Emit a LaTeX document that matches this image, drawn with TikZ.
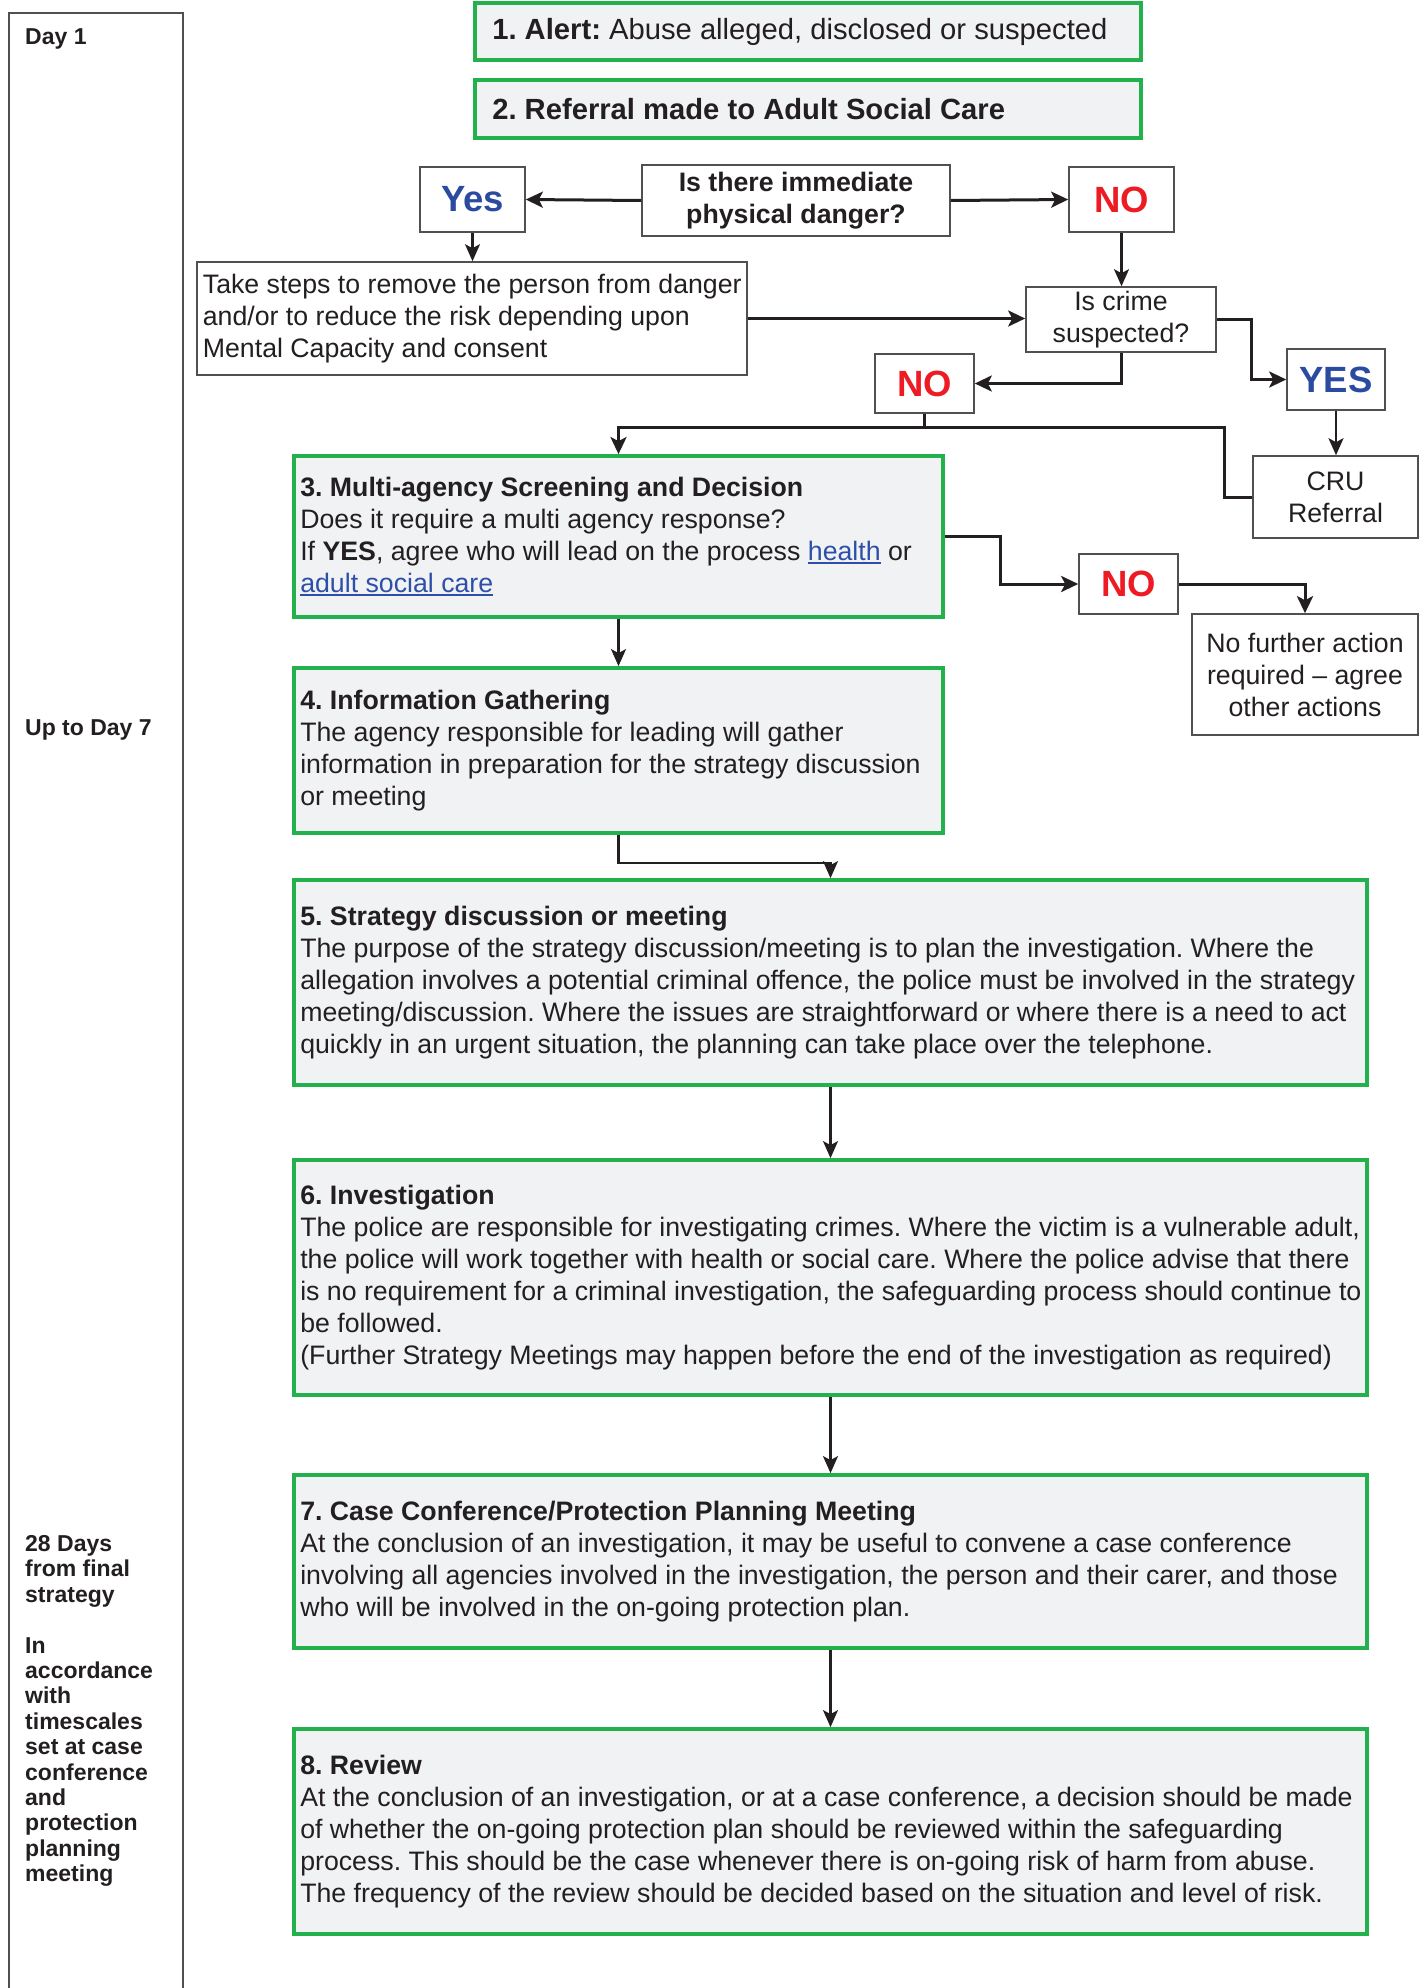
\documentclass[tikz,border=0pt]{standalone}
\usepackage{fontspec}
\setmainfont{Liberation Sans}
\frenchspacing
\usetikzlibrary{arrows.meta}
\definecolor{gborder}{RGB}{34,177,76}
\definecolor{gfill}{RGB}{241,242,244}
\definecolor{ink}{RGB}{35,31,32}
\definecolor{yblue}{RGB}{43,75,160}
\definecolor{nred}{RGB}{237,28,36}
\definecolor{lblue}{RGB}{46,79,168}
\definecolor{pborder}{RGB}{80,80,80}
\newcommand{\lnk}[1]{\textcolor{lblue}{\setbox0\hbox{#1}\rlap{\rule[-3.5pt]{\wd0}{1.6pt}}\box0}}
\begin{document}
\begin{tikzpicture}[x=1pt,y=-1pt,
  every node/.style={text=ink},
  gbox/.style={draw=gborder, fill=gfill, line width=3.8pt, inner sep=0pt},
  btext/.style={anchor=west, inner sep=0pt, align=left, font=\fontsize{26.7}{32}\selectfont},
  pbox/.style={draw=pborder, fill=white, line width=1.6pt, inner sep=0pt, font=\fontsize{26.7}{32}\selectfont},
  ans/.style={pbox, font=\fontsize{36.5}{40}\selectfont\bfseries},
  side/.style={align=left, inner sep=0pt, font=\fontsize{23}{25.4}\selectfont\bfseries},
  bigarrow/.style={draw=ink, line width=3pt, -{Stealth[length=17pt,width=16pt,inset=4pt]}},
  bigline/.style={draw=ink, line width=3pt},
  smallarrow/.style={draw=ink, line width=2.2pt, -{Stealth[length=17pt,width=15pt,inset=4pt]}},
  medarrow/.style={draw=ink, line width=2.2pt, -{Stealth[length=17pt,width=15pt,inset=4pt]}}
]
\useasboundingbox (0,0) rectangle (1420,1988);
% time column
\draw[draw=pborder, line width=1.4pt] (9,1988) -- (9,13) -- (183,13) -- (183,1988);
\node[side, anchor=base west] (d1) at (25,44.3) {Day 1};
\node[side, anchor=base west] (d7) at (25,735.3) {Up to Day 7};
\node[side, anchor=west] (d28) at (25,1711) {28 Days\\from final\\strategy\\[25.4pt]In\\accordance\\with\\timescales\\set at case\\conference\\and\\protection\\planning\\meeting};

% top boxes
\node[gbox, minimum width=666pt, minimum height=57pt] (alert) at (808,31.5) {};
\node[btext, font=\fontsize{29.2}{34}\selectfont] at ([xshift=19pt]alert.west) {\textbf{1. Alert:} Abuse alleged, disclosed or suspected};
\node[gbox, minimum width=666pt, minimum height=58pt] (ref) at (808,109) {};
\node[btext, font=\fontsize{29.2}{34}\selectfont\bfseries] at ([xshift=19pt]ref.west) {2. Referral made to Adult Social Care};

\node[pbox, minimum width=308pt, minimum height=71pt, align=center, font=\fontsize{26.7}{32}\selectfont\bfseries] (q) at (796,200.5) {Is there immediate\\physical danger?};
\node[ans, minimum width=105pt, minimum height=65pt, text=yblue] (yes) at (472.5,199.5) {Yes};
\node[ans, minimum width=105pt, minimum height=65pt, text=nred] (no1) at (1121.5,199.5) {NO};
\node[pbox, minimum width=550pt, minimum height=113pt] (take) at (472,318.5) {};
\node[btext] at ([xshift=6.5pt]take.west) {Take steps to remove the person from danger\\and/or to reduce the risk depending upon\\Mental Capacity and consent};
\node[pbox, minimum width=190pt, minimum height=65pt, align=center] (crime) at (1121,319.5) {Is crime\\suspected?};
\node[ans, minimum width=99pt, minimum height=59pt, text=nred] (no2) at (924.5,383.5) {NO};
\node[ans, minimum width=98pt, minimum height=61pt, text=yblue] (yes2) at (1336,379.5) {YES};
\node[pbox, minimum width=165pt, minimum height=82pt, align=center] (cru) at (1335.5,497) {CRU\\Referral};

\node[gbox, minimum width=649pt, minimum height=161pt] (s3) at (618.5,536.5) {};
\node[btext] at ([xshift=8pt]s3.west) {\textbf{3. Multi-agency Screening and Decision}\\Does it require a multi agency response?\\If \textbf{YES}, agree who will lead on the process \lnk{health} or\\\lnk{adult social care}};
\node[ans, minimum width=99pt, minimum height=60pt, text=nred] (no3) at (1128.5,584) {NO};
\node[pbox, minimum width=226pt, minimum height=121pt, align=center] (nfa) at (1305,674.5) {No further action\\required – agree\\other actions};

\node[gbox, minimum width=649pt, minimum height=165pt] (s4) at (618.5,750.5) {};
\node[btext] at ([xshift=8pt]s4.west) {\textbf{4. Information Gathering}\\The agency responsible for leading will gather\\information in preparation for the strategy discussion\\or meeting};

\node[gbox, minimum width=1073pt, minimum height=205pt] (s5) at (830.5,982.5) {};
\node[btext] at ([xshift=8pt]s5.west) {\textbf{5. Strategy discussion or meeting}\\The purpose of the strategy discussion/meeting is to plan the investigation. Where the\\allegation involves a potential criminal offence, the police must be involved in the strategy\\meeting/discussion. Where the issues are straightforward or where there is a need to act\\quickly in an urgent situation, the planning can take place over the telephone.};

\node[gbox, minimum width=1073pt, minimum height=235pt] (s6) at (830.5,1277.5) {};
\node[btext] at ([xshift=8pt]s6.west) {\textbf{6. Investigation}\\The police are responsible for investigating crimes. Where the victim is a vulnerable adult,\\the police will work together with health or social care. Where the police advise that there\\is no requirement for a criminal investigation, the safeguarding process should continue to\\be followed.\\(Further Strategy Meetings may happen before the end of the investigation as required)};

\node[gbox, minimum width=1073pt, minimum height=173pt] (s7) at (830.5,1561.5) {};
\node[btext] at ([xshift=8pt]s7.west) {\textbf{7. Case Conference/Protection Planning Meeting}\\At the conclusion of an investigation, it may be useful to convene a case conference\\involving all agencies involved in the investigation, the person and their carer, and those\\who will be involved in the on-going protection plan.};

\node[gbox, minimum width=1073pt, minimum height=205pt] (s8) at (830.5,1831.5) {};
\node[btext] at ([xshift=8pt]s8.west) {\textbf{8. Review}\\At the conclusion of an investigation, or at a case conference, a decision should be made\\of whether the on-going protection plan should be reviewed within the safeguarding\\process. This should be the case whenever there is on-going risk of harm from abuse.\\The frequency of the review should be decided based on the situation and level of risk.};

% connectors
\draw[bigarrow] (q.west) -- (yes.east);
\draw[bigarrow] (q.east) -- (no1.west);
\draw[smallarrow] (yes.south) -- (yes.south |- take.north);
\draw[smallarrow] (no1.south) -- (no1.south |- crime.north);
\draw[bigarrow] (take.east) -- (take.east -| crime.west);
\draw[bigarrow] (crime.south) |- (no2.east);
\draw[bigarrow] (crime.east) -- ++(35,0) |- (yes2.west);
\draw[smallarrow] (yes2.south) -- (yes2.south |- cru.north);
\coordinate (j) at (924.5,427);
\draw[bigline] (no2.south) -- (j);
\draw[bigarrow] (j) -| (s3.north);
\draw[bigline] (j) -- (1224,427) |- (cru.west);
\draw[bigarrow] (s3.east) -- (1000,536.5) |- (no3.west);
\draw[bigarrow] (no3.east) -| (nfa.north);
\draw[medarrow] (s3.south) -- (s4.north);
\draw[medarrow] (s4.south) -- ++(0,28) -| (s5.north);
\draw[medarrow] (s5.south) -- (s6.north);
\draw[medarrow] (s6.south) -- (s7.north);
\draw[medarrow] (s7.south) -- (s8.north);
\end{tikzpicture}
\end{document}
